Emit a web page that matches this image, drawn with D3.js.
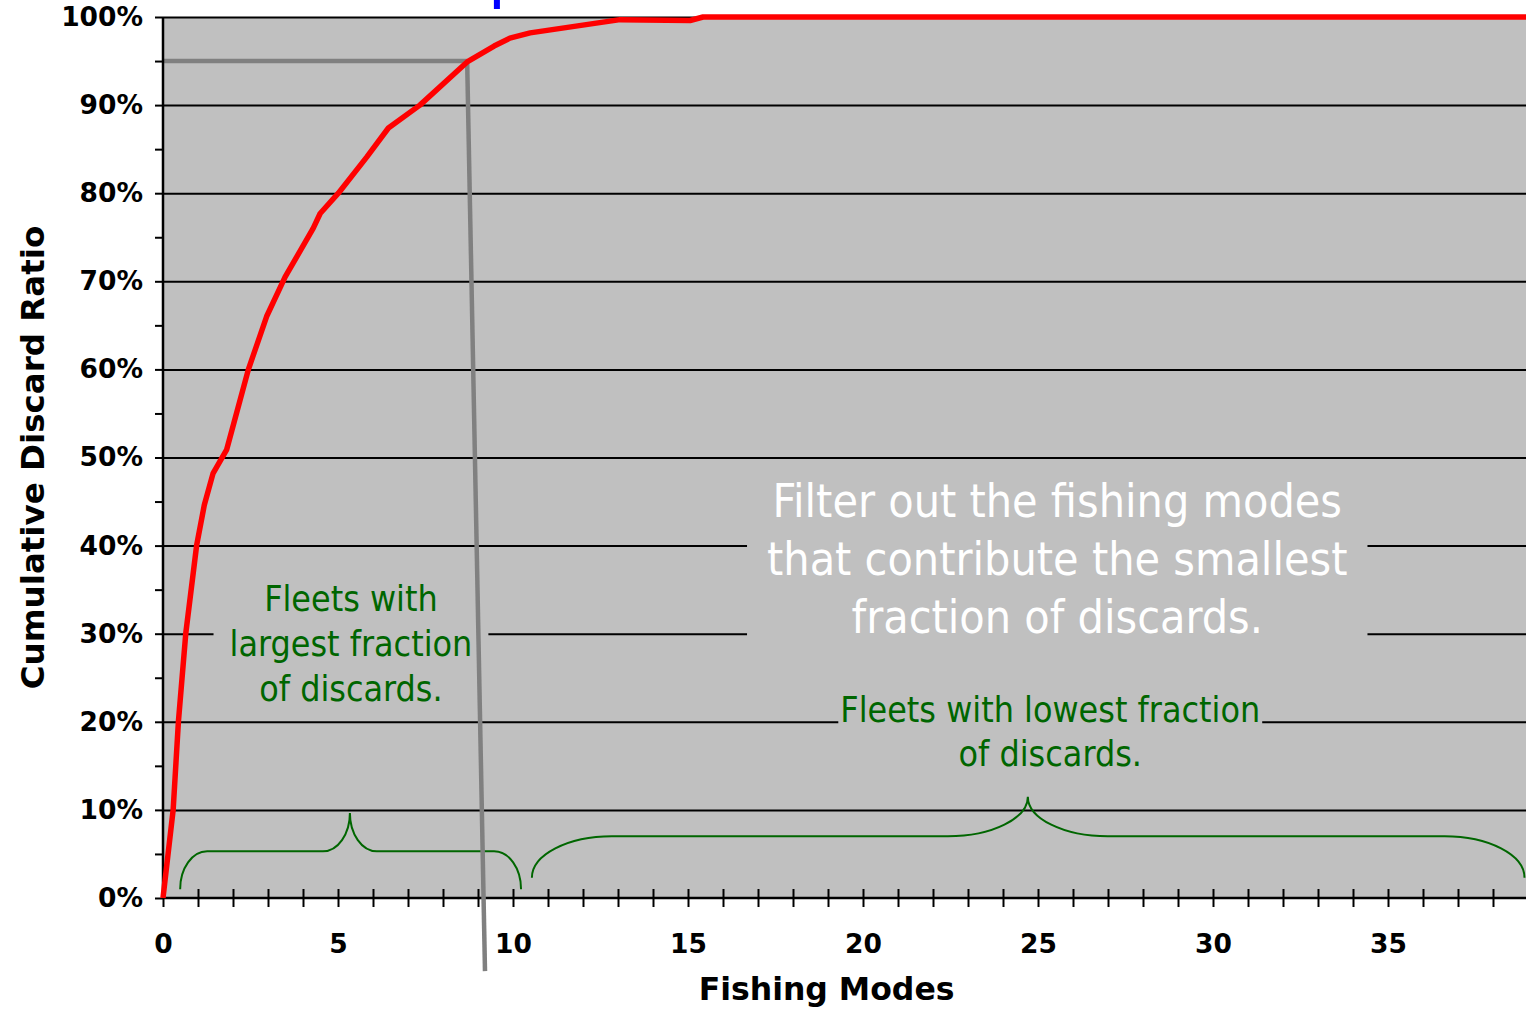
<!DOCTYPE html>
<html>
<head>
<meta charset="utf-8">
<script src="https://cdn.jsdelivr.net/npm/d3@7"></script>
<style>
  body { margin: 0; background: #fff; }
  svg { display: block; }
</style>
</head>
<body>
<div id="chart"></div>
<script>
// cumulative discard ratio against number of fishing modes
var modes = [0, 0.29, 0.44, 0.65, 0.96, 1.18, 1.43, 1.82, 2.44, 2.96, 3.49, 4.29, 4.49, 5.01, 5.82, 6.44, 7.34, 8.69, 9.46, 9.91, 10.49, 13.06, 15.06, 15.43, 39];
var cumRatio = [0, 0.10, 0.20, 0.30, 0.40, 0.446, 0.482, 0.509, 0.60, 0.66, 0.705, 0.76, 0.777, 0.80, 0.841, 0.874, 0.90, 0.949, 0.967, 0.976, 0.982, 0.997, 0.996, 1.0, 1.0];

// 95% cut-off marker
var cutRatio = 0.95;
var cutModes = [8.69, 9.2];
var cutBottom = -0.083;

// axis ticks
var xTicks = d3.range(0, 39);
var xLabels = [0, 5, 10, 15, 20, 25, 30, 35];
var yMajor = [0, 0.1, 0.2, 0.3, 0.4, 0.5, 0.6, 0.7, 0.8, 0.9, 1.0];
var yMinor = [0.05, 0.15, 0.25, 0.35, 0.45, 0.55, 0.65, 0.75, 0.85, 0.95];

// braces (start, tip, end in fishing modes)
var braceStart = [0.49, 10.54];
var braceTip = [5.34, 24.71];
var braceEnd = [10.23, 38.9];

var noteLargest = ["Fleets with", "largest fraction", "of discards."];
var noteFilter = ["Filter out the fishing modes", "that contribute the smallest", "fraction of discards."];
var noteLowest = ["Fleets with lowest fraction", "of discards."];

var xTitle = "Fishing Modes";
var yTitle = "Cumulative Discard Ratio";

const width = 1526, height = 1009;
const margin = { top: 17, left: 163, bottom: 111 };
const plotRight = margin.left + 39 * 35;
const plotBottom = height - margin.bottom;

var svg = d3.select("#chart").append("svg")
  .attr("width", width)
  .attr("height", height);

var x = d3.scaleLinear().domain([0, 39]).range([margin.left, plotRight]);
var y = d3.scaleLinear().domain([0, 1]).range([plotBottom, margin.top]);

var boldFont = "'DejaVu Sans', sans-serif";
var noteFont = "'DejaVu Sans Condensed', 'DejaVu Sans', sans-serif";
var green = "#006600";

// plot background
svg.append("rect")
  .attr("x", x(0)).attr("y", y(1))
  .attr("width", x(39) - x(0)).attr("height", y(0) - y(1))
  .attr("fill", "#c0c0c0");

// gridlines
svg.append("g")
  .attr("transform", `translate(${x(0)},0)`)
  .call(d3.axisLeft(y).tickValues(yMajor.slice(1)).tickSize(-(x(39) - x(0))).tickFormat(""))
  .call(g => g.select(".domain").remove())
  .call(g => g.selectAll(".tick line").attr("stroke", "#000").attr("stroke-width", 2));

// text boxes hide gridlines behind them
function note(lines, cx, firstBase, step, size, color, padX, padTop, padBottom) {
  var g = svg.append("g");
  var box = g.append("rect").attr("fill", "#c0c0c0");
  var t = g.append("text")
    .attr("text-anchor", "middle")
    .attr("font-family", noteFont)
    .attr("font-size", size)
    .attr("fill", color);
  lines.forEach(function (l, i) {
    t.append("tspan").attr("x", cx).attr("y", firstBase + i * step).text(l);
  });
  var bb = t.node().getBBox();
  box.attr("x", bb.x - padX).attr("y", bb.y - padTop)
    .attr("width", bb.width + 2 * padX).attr("height", bb.height + padTop + padBottom);
}

note(noteLargest, x(5.37), 611, 45, 35.5, green, 16, 4, 2);
note(noteFilter, x(25.55), 517, 58, 46.2, "#fff", 20, 8, 8);
note(noteLowest, x(25.35), 722, 44, 35.5, green, 2, 2, 2);

// braces
function bracePath(x0, xm, x1, yEnd, yMid, yTip, rx) {
  var hEnd = yEnd - yMid, hTip = yMid - yTip;
  return `M${x0},${yEnd}` +
    `A${rx},${hEnd} 0 0 1 ${x0 + rx},${yMid}` +
    `L${xm - rx},${yMid}` +
    `A${rx},${hTip} 0 0 0 ${xm},${yTip}` +
    `A${rx},${hTip} 0 0 0 ${xm + rx},${yMid}` +
    `L${x1 - rx},${yMid}` +
    `A${rx},${hEnd} 0 0 1 ${x1},${yEnd}`;
}
var braceShape = [
  { yEnd: 0.010, yMid: 0.053, yTip: 0.0965, rx: 27 },
  { yEnd: 0.023, yMid: 0.070, yTip: 0.115, rx: 80 }
];
svg.selectAll(".brace")
  .data(braceStart)
  .enter().append("path")
  .attr("class", "brace")
  .attr("fill", "none")
  .attr("stroke", green)
  .attr("stroke-width", 2)
  .attr("d", function (d, i) {
    var s = braceShape[i];
    return bracePath(x(d), x(braceTip[i]), x(braceEnd[i]), y(s.yEnd), y(s.yMid), y(s.yTip), s.rx);
  });

// 95% cut-off horizontal
svg.append("path")
  .attr("fill", "none")
  .attr("stroke", "#808080")
  .attr("stroke-width", 4.5)
  .attr("d", `M${x(0)},${y(cutRatio)}L${x(cutModes[0])},${y(cutRatio)}`);

// y axis ticks and labels
svg.append("g")
  .attr("transform", `translate(${x(0)},0)`)
  .call(d3.axisLeft(y).tickValues(yMajor.concat(yMinor)).tickSize(8).tickPadding(12)
    .tickFormat(d => yMajor.indexOf(d) >= 0 ? d3.format(".0%")(d) : ""))
  .call(g => g.select(".domain").remove())
  .call(g => g.selectAll(".tick line").attr("stroke", "#000").attr("stroke-width", 2))
  .call(g => g.selectAll("text").attr("font-family", boldFont).attr("font-weight", "bold")
    .attr("font-size", 26.5).attr("fill", "#000"));

// x axis ticks and labels
svg.append("g")
  .attr("transform", `translate(0,${y(0)})`)
  .call(d3.axisBottom(x).tickValues(xTicks).tickSize(9)
    .tickFormat(d => xLabels.indexOf(d) >= 0 ? d : ""))
  .call(g => g.select(".domain").remove())
  .call(g => g.selectAll(".tick line").attr("y1", -9).attr("y2", 9).attr("stroke", "#000").attr("stroke-width", 2))
  .call(g => g.selectAll("text").attr("y", 36).attr("font-family", boldFont).attr("font-weight", "bold")
    .attr("font-size", 26.5).attr("fill", "#000"));

// axis lines
svg.append("line")
  .attr("x1", x(0)).attr("x2", x(39)).attr("y1", y(0)).attr("y2", y(0))
  .attr("stroke", "#000").attr("stroke-width", 2.5);
svg.append("line")
  .attr("x1", x(0)).attr("x2", x(0)).attr("y1", y(0)).attr("y2", y(1))
  .attr("stroke", "#000").attr("stroke-width", 2.5);

// cut-off vertical drawn over the axis
svg.append("line")
  .attr("x1", x(cutModes[0])).attr("y1", y(cutRatio))
  .attr("x2", x(cutModes[1])).attr("y2", y(cutBottom))
  .attr("stroke", "#808080").attr("stroke-width", 4.5);

// the cumulative curve
var line = d3.line()
  .x(function (d) { return x(d[0]); })
  .y(function (d) { return y(d[1]); });

svg.append("path")
  .datum(d3.zip(modes, cumRatio))
  .attr("fill", "none")
  .attr("stroke", "#ff0000")
  .attr("stroke-width", 5.5)
  .attr("stroke-linejoin", "round")
  .attr("d", line);

// small blue mark cut at the top edge
svg.append("rect")
  .attr("x", x(9.54) - 3).attr("y", 0)
  .attr("width", 6).attr("height", 9)
  .attr("fill", "#0000ff");

// axis titles
svg.append("text")
  .attr("x", x(18.96)).attr("y", 1000)
  .attr("text-anchor", "middle")
  .attr("font-family", boldFont).attr("font-weight", "bold").attr("font-size", 31.5)
  .text(xTitle);

svg.append("text")
  .attr("transform", `translate(44,${y(0.50)}) rotate(-90)`)
  .attr("text-anchor", "middle")
  .attr("font-family", boldFont).attr("font-weight", "bold").attr("font-size", 32.5)
  .text(yTitle);
</script>
</body>
</html>
